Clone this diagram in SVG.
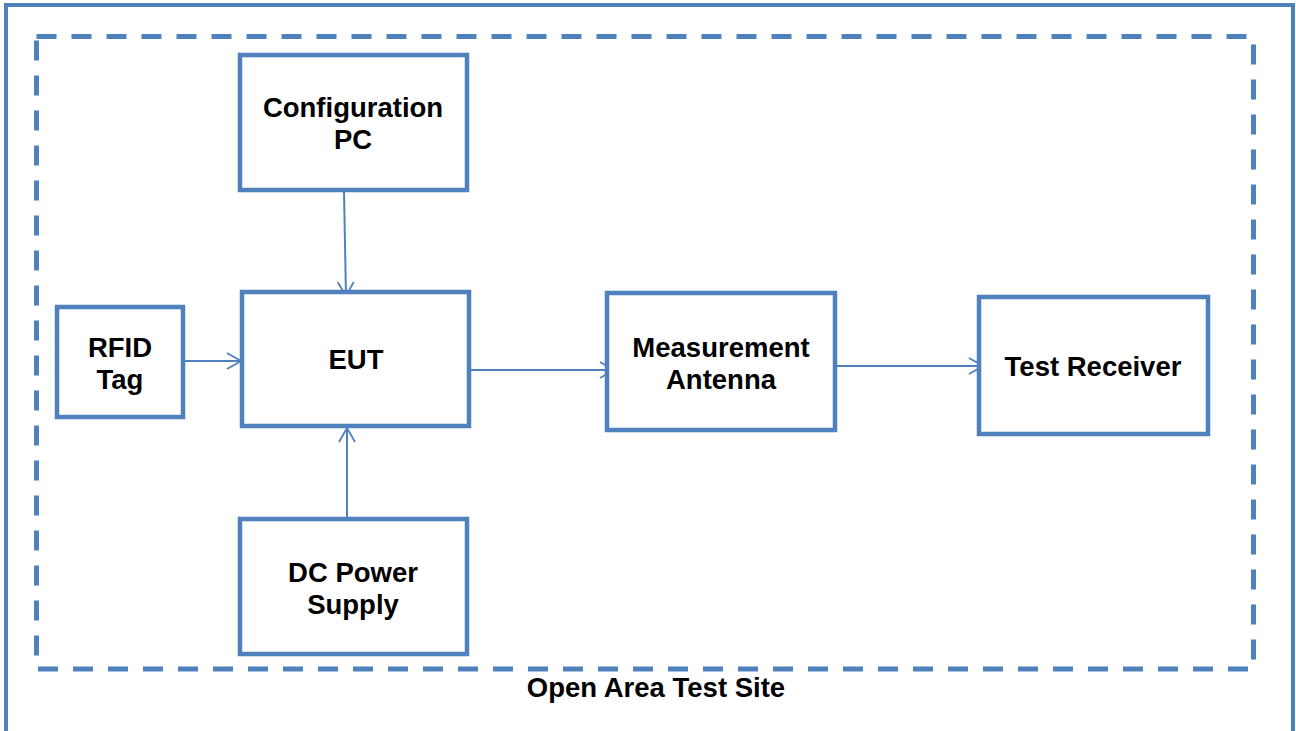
<svg xmlns="http://www.w3.org/2000/svg" width="1296" height="731" viewBox="0 0 1296 731">
<style>
.box{fill:#fff;stroke:#4F81BD;stroke-width:4.5}
.lbl{font-family:"Liberation Sans",Arial,sans-serif;font-weight:bold;font-size:27.5px;fill:#000;text-anchor:middle}
.conn{stroke:#4F81BD;stroke-width:2;fill:none}
</style>
<defs>
<marker id="arr" viewBox="0 0 18 18" refX="17" refY="9" markerWidth="18" markerHeight="18" markerUnits="userSpaceOnUse" orient="auto">
<path d="M3,1 L17,9 L3,17" fill="none" stroke="#4F81BD" stroke-width="1.8"/>
</marker>
</defs>
<rect x="0" y="0" width="1296" height="731" fill="#fff"/>
<rect x="6" y="5" width="1287" height="728" fill="none" stroke="#4F81BD" stroke-width="4"/>
<rect id="site" x="36.5" y="36.5" width="1217" height="632.5" fill="none" stroke="#4F81BD" stroke-width="5" stroke-dasharray="20 15"/>
<text class="lbl" x="656" y="697">Open Area Test Site</text>
<g id="connectors">
<line class="conn" x1="344" y1="191" x2="346" y2="296" marker-end="url(#arr)"/>
<line class="conn" x1="180" y1="361" x2="241" y2="361" marker-end="url(#arr)"/>
<line class="conn" x1="462" y1="370" x2="614" y2="370" marker-end="url(#arr)"/>
<line class="conn" x1="829" y1="366" x2="983" y2="366" marker-end="url(#arr)"/>
<line class="conn" x1="347" y1="518" x2="347" y2="428" marker-end="url(#arr)"/>
</g>
<g id="config-pc"><rect class="box" x="240" y="55" width="227" height="135"/><text class="lbl" x="353" y="117">Configuration</text><text class="lbl" x="353" y="149">PC</text></g>
<g id="eut"><rect class="box" x="242" y="292" width="227" height="134"/><text class="lbl" x="356" y="369">EUT</text></g>
<g id="rfid-tag"><rect class="box" x="57" y="307" width="126" height="110"/><text class="lbl" x="120" y="357">RFID</text><text class="lbl" x="120" y="389">Tag</text></g>
<g id="measurement-antenna"><rect class="box" x="607" y="293" width="228" height="137"/><text class="lbl" x="721" y="357">Measurement</text><text class="lbl" x="721" y="389">Antenna</text></g>
<g id="test-receiver"><rect class="box" x="979" y="297" width="229" height="137"/><text class="lbl" x="1093" y="376">Test Receiver</text></g>
<g id="dc-power"><rect class="box" x="240" y="519" width="227" height="135"/><text class="lbl" x="353" y="582">DC Power</text><text class="lbl" x="353" y="614">Supply</text></g>
</svg>
